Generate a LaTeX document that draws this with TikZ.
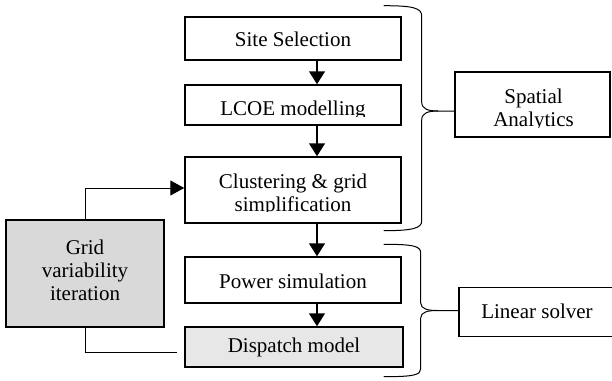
\documentclass[tikz,border=0pt]{standalone}
\usepackage{fontspec}
\setmainfont{Liberation Serif}
\usetikzlibrary{arrows.meta}
\definecolor{gridgray}{RGB}{217,217,217}
\definecolor{dispgray}{RGB}{231,231,231}
% centred block of lines whose baseline is the first line
\newcommand{\stacktext}[1]{\begin{tabular}[t]{@{}c@{}}#1\end{tabular}}
\tikzset{
  box/.style={draw=black, line width=1.5pt, inner sep=0pt},
  lbl/.style={anchor=base, inner sep=0pt, font=\fontsize{21}{23}\selectfont},
  flow/.style={line width=1.6pt, -{Triangle[length=13pt,width=16pt]}},
  loop/.style={line width=1pt},
  loopin/.style={line width=1pt, -{Triangle[length=14pt,width=15pt]}},
  brace/.style={line width=1pt, line cap=round}
}
\begin{document}
\begin{tikzpicture}[x=1pt, y=-1pt]
\useasboundingbox (0,0) rectangle (612,380);

% process boxes
\node[box, minimum width=216pt, minimum height=43pt] (site)  at (293,38.5) {};
\node[box, minimum width=216pt, minimum height=40pt] (lcoe)  at (293,105) {};
\node[box, minimum width=216pt, minimum height=66pt] (clus)  at (293,190) {};
\node[box, minimum width=216pt, minimum height=46pt] (power) at (293,280) {};
\node[box, fill=dispgray, minimum width=218pt, minimum height=40pt] (disp) at (294,347) {};
\node[box, fill=gridgray, minimum width=158pt, minimum height=107pt] (grid) at (85,273.5) {};
\node[box, minimum width=155pt, minimum height=65pt] (spatial) at (532.5,104.5) {};
\node[box, minimum width=156pt, minimum height=49pt] (linear)  at (537,312) {};

% labels
\node[lbl] (siteT)  at (293,46) {Site Selection};
\begin{scope}
  \clip (lcoe.north west) rectangle ([yshift=9.5pt]lcoe.south east);
  \node[lbl] (lcoeT) at (293,115) {LCOE modelling};
\end{scope}
\begin{scope}
  \clip (clus.north west) rectangle ([yshift=12pt]clus.south east);
  \node[lbl] (clusT) at (293,188) {\stacktext{Clustering \& grid\\simplification}};
\end{scope}
\node[lbl] (powerT) at (293,288) {Power simulation};
\node[lbl] (dispT)  at (294,352) {Dispatch model};
\node[lbl] (gridT)  at (85,254)  {\stacktext{Grid\\variability\\iteration}};
\begin{scope}
  \clip (spatial.north west) rectangle ([yshift=10pt]spatial.south east);
  \node[lbl] (spatialT) at (533.5,103.3) {\stacktext{Spatial\\Analytics}};
\end{scope}
\node[lbl] (linearT) at (537,318) {Linear solver};

% main flow
\draw[flow] ([xshift=24pt]site.south)  -- ([xshift=24pt]lcoe.north);
\draw[flow] ([xshift=24pt]lcoe.south)  -- ([xshift=24pt]clus.north);
\draw[flow] ([xshift=24pt]clus.south)  -- ([xshift=24pt]power.north);
\draw[flow] ([xshift=24pt]power.south) -- ([xshift=24pt]power.south |- disp.north);

% iteration loop
\coordinate (loopend) at (177,352);
\draw[loopin] (grid.north) |- ([yshift=2pt]clus.west);
\draw[loop] (grid.south) |- (loopend);

% grouping braces
\draw[brace] (384,5.7) .. controls (413,5.7) and (421.7,8) .. (421.7,16)
  -- (421.7,102) .. controls (421.7,109) and (428,111) .. (438,111) -- (spatial.west |- 0,111);
\draw[brace] (438,111) .. controls (428,111) and (421.7,113) .. (421.7,120)
  -- (421.7,221) .. controls (421.7,228) and (413,230.7) .. (384,230.7);
\draw[brace] (384,244.3) .. controls (413,244.3) and (420.7,246) .. (420.7,253)
  -- (420.7,303) .. controls (420.7,309) and (428,310.5) .. (437,310.5) -- (linear.west |- 0,310.5);
\draw[brace] (437,310.5) .. controls (428,310.5) and (420.7,312) .. (420.7,318)
  -- (420.7,369) .. controls (420.7,375) and (413,376.7) .. (384,376.7);
\end{tikzpicture}
\end{document}
